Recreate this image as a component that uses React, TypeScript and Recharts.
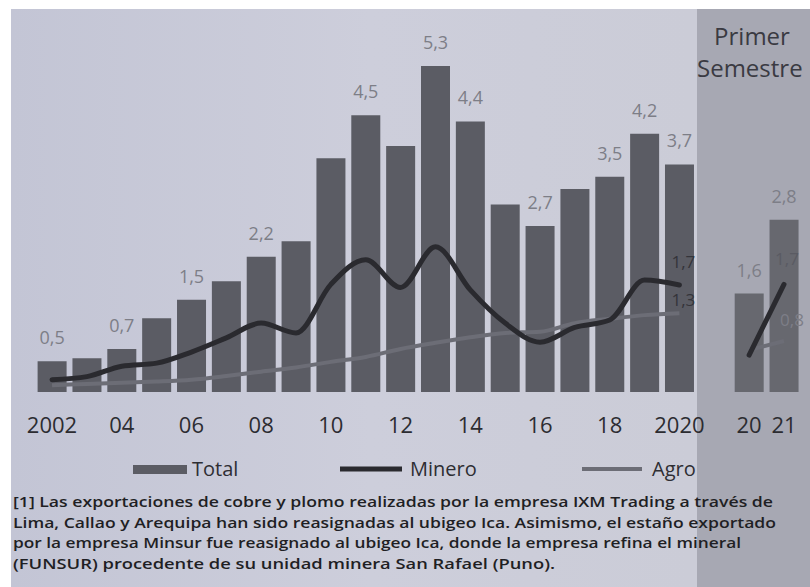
import React from 'react'
import { ComposedChart, Bar, Line, XAxis, YAxis, LabelList, Cell } from 'recharts'

// categories: 19 years, one empty slot, then the two first-semester bars
const categories = ['2002', '2003', '2004', '2005', '2006', '2007', '2008', '2009', '2010', '2011', '2012', '2013', '2014', '2015', '2016', '2017', '2018', '2019', '2020', 'gap', 'S2020', 'S2021']
const tickLabels = ['2002', '', '04', '', '06', '', '08', '', '10', '', '12', '', '14', '', '16', '', '18', '', '2020', '', '20', '21']

const totalValues = [0.5, 0.55, 0.7, 1.2, 1.5, 1.8, 2.2, 2.45, 3.8, 4.5, 4.0, 5.3, 4.4, 3.05, 2.7, 3.3, 3.5, 4.2, 3.7, null, 1.6, 2.8]
const mineroValues = [0.2, 0.25, 0.42, 0.47, 0.65, 0.88, 1.12, 0.96, 1.75, 2.15, 1.7, 2.36, 1.66, 1.12, 0.81, 1.05, 1.17, 1.82, 1.74, null, 0.6, 1.75]
const agroValues = [0.11, 0.13, 0.15, 0.17, 0.2, 0.26, 0.33, 0.4, 0.49, 0.57, 0.7, 0.8, 0.89, 0.96, 0.98, 1.12, 1.19, 1.25, 1.28, null, 0.68, 0.83]

const totalLabels = ['0,5', '', '0,7', '', '1,5', '', '2,2', '', '', '4,5', '', '5,3', '4,4', '', '2,7', '', '3,5', '4,2', '3,7', '', '1,6', '2,8']
const mineroLabels = ['', '', '', '', '', '', '', '', '', '', '', '', '', '', '', '', '', '', '1,7', '', '', '1,7']
const agroLabels = ['', '', '', '', '', '', '', '', '', '', '', '', '', '', '', '', '', '', '1,3', '', '', '0,8']

const footnote = [
  '[1] Las exportaciones de cobre y plomo realizadas por la empresa IXM Trading a través de',
  'Lima, Callao y Arequipa han sido reasignadas al ubigeo Ica. Asimismo, el estaño exportado',
  'por la empresa Minsur fue reasignado al ubigeo Ica, donde la empresa refina el mineral',
  '(FUNSUR) procedente de su unidad minera San Rafael (Puno).',
]
const footnoteWidths = [760, 763, 728, 542]

const data = categories.map((c, i) => ({
  cat: c,
  total: totalValues[i],
  minero: mineroValues[i],
  agro: agroValues[i],
  totalLabel: totalLabels[i],
  mineroLabel: mineroLabels[i],
  agroLabel: agroLabels[i],
}))

const FONT = '"Open Sans", "Noto Sans", sans-serif'
const BAR = '#5b5c64'
const BAR_SEM = '#67686f'
const MINERO = '#2a2a2f'
const AGRO = '#6c6d76'
const LABEL = '#7d7e87'

// offsets for the few line value labels (2020 inside the bar, semester to the right)
const lineLabelOffset: Record<string, { dx: number; dy: number; color: string }> = {
  'minero-18': { dx: 4, dy: -23, color: '#34343a' },
  'minero-21': { dx: 3, dy: -25, color: '#5a5b63' },
  'agro-18': { dx: 4, dy: -13, color: '#34343a' },
  'agro-21': { dx: 8, dy: -21, color: '#7d7e87' },
}

const makeLineLabel = (series: string) => (props: any) => {
  const { x, y, value, index } = props
  if (!value) return null
  const o = lineLabelOffset[`${series}-${index}`] || { dx: 0, dy: -12, color: LABEL }
  return (
    <text x={x + o.dx} y={y + o.dy} dy="0.35em" textAnchor="middle" fill={o.color} fontSize={17} fontFamily={FONT}>
      {value}
    </text>
  )
}

const BarLabel = (props: any) => {
  const { x, y, width, value } = props
  if (!value) return null
  return (
    <text x={x + width / 2} y={y - 17} textAnchor="middle" fill={LABEL} fontSize={18} fontFamily={FONT}>
      {value}
    </text>
  )
}

const Tick = (props: any) => {
  const { x, y, index } = props
  return (
    <text x={x} y={y} dy="0.71em" textAnchor="middle" fill="#2c2c31" fontSize={22} fontFamily={FONT}>
      {tickLabels[index]}
    </text>
  )
}

export default function App() {
  return (
    <div style={{ position: 'absolute', left: 0, top: 0, width: 810, height: 587, background: '#ffffff', overflow: 'hidden' }}>
      {/* photo background */}
      <div
        style={{
          position: 'absolute', left: 11, top: 9, width: 799, height: 578,
          background: 'linear-gradient(90deg, #c3c5d5 0%, #cdcedb 45%, #cbccd7 85%)',
        }}
      />
      {/* shaded first-semester band */}
      <div style={{ position: 'absolute', left: 697, top: 9, width: 113, height: 578, background: '#a7a8b3' }} />

      <div style={{ position: 'absolute', left: 0, top: 0 }}>
        <ComposedChart
          width={810}
          height={440}
          data={data}
          margin={{ top: 23, right: 8.6, left: 34.6, bottom: 0 }}
        >
          <XAxis
            dataKey="cat"
            interval={0}
            tickLine={false}
            axisLine={false}
            tickSize={0}
            tickMargin={25}
            height={48}
            tick={<Tick />}
          />
          <YAxis hide domain={[0, 6]} />
          <Bar dataKey="total" barSize={29} isAnimationActive={false}>
            {data.map((d, i) => (
              <Cell key={d.cat} fill={i >= 20 ? BAR_SEM : BAR} />
            ))}
            <LabelList dataKey="totalLabel" content={<BarLabel />} />
          </Bar>
          <Line
            type="monotone"
            dataKey="agro"
            stroke={AGRO}
            strokeWidth={4}
            dot={false}
            activeDot={false}
            connectNulls={false}
            isAnimationActive={false}
          >
            <LabelList dataKey="agroLabel" content={makeLineLabel('agro')} />
          </Line>
          <Line
            type="monotone"
            dataKey="minero"
            stroke={MINERO}
            strokeWidth={5}
            strokeLinecap="round"
            dot={false}
            activeDot={false}
            connectNulls={false}
            isAnimationActive={false}
          >
            <LabelList dataKey="mineroLabel" content={makeLineLabel('minero')} />
          </Line>
        </ComposedChart>
      </div>

      {/* band title, legend and footnote */}
      <svg width={810} height={587} style={{ position: 'absolute', left: 0, top: 0 }}>
        <text x={752} y={37} dy="0.35em" textAnchor="middle" fontSize={24} fontFamily={FONT} fill="#3a3a42">Primer</text>
        <text x={697} y={69} dy="0.35em" fontSize={24} fontFamily={FONT} fill="#3a3a42">Semestre</text>

        <rect x={133} y={465} width={54} height={9} fill={BAR} />
        <text x={192} y={469} dy="0.35em" fontSize={20} fontFamily={FONT} fill="#2e2e33">Total</text>
        <line x1={340} y1={469} x2={402} y2={469} stroke={MINERO} strokeWidth={5} />
        <text x={410} y={469} dy="0.35em" fontSize={20} fontFamily={FONT} fill="#2e2e33">Minero</text>
        <line x1={582} y1={469} x2={642} y2={469} stroke={AGRO} strokeWidth={4} />
        <text x={652} y={469} dy="0.35em" fontSize={20} fontFamily={FONT} fill="#2e2e33">Agro</text>

        {footnote.map((line, i) => (
          <text
            key={i}
            x={13}
            y={507 + i * 20.5}
            fontSize={14.5}
            fontWeight={600}
            fontFamily={FONT}
            fill="#1f1f24"
            textLength={footnoteWidths[i]}
            lengthAdjust="spacingAndGlyphs"
          >
            {line}
          </text>
        ))}
      </svg>
    </div>
  )
}
